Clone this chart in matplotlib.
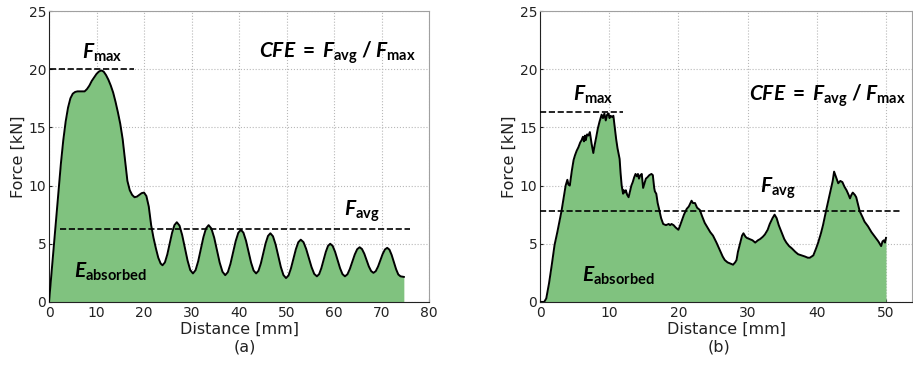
import matplotlib
matplotlib.use("Agg")
import matplotlib.pyplot as plt

# panel (a): smooth crushing curve
dist_a = [0, 0.5, 1.0, 1.5, 2.0, 2.5, 3.0, 3.5, 4.0, 4.5,
          5.0, 5.5, 6.0, 6.5, 7.0, 7.5, 8.0, 8.5, 9.0, 9.5,
          10.0, 10.5, 11.0, 11.5, 12.0, 12.5, 13.0, 13.5, 14.0, 14.5,
          15.0, 15.5, 16.0, 16.5, 17.0, 17.5, 18.0, 18.5, 19.0, 19.5,
          20.0, 20.5, 21.0, 21.5, 22.0, 22.5, 23.0, 23.5, 23.9,
          24.4, 24.9, 25.4, 25.9, 26.4, 26.9,
          27.47, 28.03, 28.6, 29.17, 29.73, 30.3,
          30.85, 31.4, 31.95, 32.5, 33.05, 33.6,
          34.18, 34.77, 35.35, 35.93, 36.52, 37.1,
          37.65, 38.2, 38.75, 39.3, 39.85, 40.4,
          40.93, 41.47, 42.0, 42.53, 43.07, 43.6,
          44.1, 44.6, 45.1, 45.6, 46.1, 46.6,
          47.15, 47.7, 48.25, 48.8, 49.35, 49.9,
          50.42, 50.93, 51.45, 51.97, 52.48, 53.0,
          53.57, 54.13, 54.7, 55.27, 55.83, 56.4,
          56.87, 57.33, 57.8, 58.27, 58.73, 59.2,
          59.72, 60.23, 60.75, 61.27, 61.78, 62.3,
          62.82, 63.33, 63.85, 64.37, 64.88, 65.4,
          65.88, 66.37, 66.85, 67.33, 67.82, 68.3,
          68.78, 69.27, 69.75, 70.23, 70.72, 71.2,
          71.67, 72.13, 72.6, 73.07, 73.53, 74.0, 74.7]
force_a = [0, 2.4, 4.8, 7.2, 9.6, 11.9, 13.9, 15.5, 16.7, 17.5,
           17.9, 18.05, 18.1, 18.1, 18.1, 18.1, 18.3, 18.6, 19.0, 19.3,
           19.6, 19.8, 19.9, 19.8, 19.5, 19.1, 18.6, 18.0, 17.2, 16.3,
           15.3, 14.0, 12.2, 10.4, 9.6, 9.2, 9.0, 9.05, 9.2, 9.35,
           9.4, 9.1, 8.2, 6.6, 5.5, 4.6, 3.8, 3.3, 3.15,
           3.40, 4.08, 5.00, 5.93, 6.60, 6.85,
           6.56, 5.75, 4.65, 3.55, 2.74, 2.45,
           2.73, 3.49, 4.53, 5.56, 6.32, 6.6,
           6.31, 5.53, 4.45, 3.38, 2.59, 2.3,
           2.56, 3.28, 4.25, 5.23, 5.94, 6.2,
           5.95, 5.26, 4.33, 3.39, 2.70, 2.45,
           2.68, 3.31, 4.18, 5.04, 5.67, 5.9,
           5.64, 4.94, 3.98, 3.01, 2.31, 2.05,
           2.27, 2.88, 3.70, 4.53, 5.13, 5.35,
           5.14, 4.56, 3.78, 2.99, 2.41, 2.2,
           2.39, 2.90, 3.60, 4.30, 4.81, 5.0,
           4.81, 4.30, 3.60, 2.90, 2.39, 2.2,
           2.37, 2.83, 3.45, 4.08, 4.53, 4.7,
           4.55, 4.15, 3.60, 3.05, 2.65, 2.5,
           2.64, 3.04, 3.58, 4.11, 4.51, 4.65,
           4.49, 4.04, 3.43, 2.81, 2.36, 2.2, 2.15]

# panel (b): noisy measured curve
dist_b = [0.0, 0.6, 0.9, 1.3, 1.7, 2.1, 2.5, 2.8, 3.1, 3.4,
          3.7, 3.95, 4.1, 4.3, 4.6, 4.85, 5.05, 5.3, 5.55, 5.8,
          6.0, 6.2, 6.35, 6.5, 6.6, 6.8, 7.0, 7.2, 7.45, 7.7,
          7.9, 8.1, 8.35, 8.6, 8.9, 9.1, 9.3, 9.5, 9.7, 9.9,
          10.05, 10.2, 10.4, 10.6, 10.8, 11.0, 11.2, 11.5, 11.65, 11.8,
          12.0, 12.1, 12.25, 12.4, 12.6, 12.8, 13.0, 13.2, 13.4, 13.6,
          13.8, 14.0, 14.15, 14.3, 14.5, 14.7, 14.9, 15.1, 15.3, 15.5,
          15.8, 16.1, 16.3, 16.5, 16.6, 16.8, 17.0, 17.2, 17.5, 17.8,
          18.2, 18.6, 18.8, 19.0, 19.3, 19.6, 20.0, 20.2, 20.5, 20.8,
          21.2, 21.5, 21.9, 22.1, 22.4, 22.7, 23.1, 23.4, 23.8, 24.2,
          24.6, 25.0, 25.5, 25.8, 26.1, 26.4, 26.7, 27.1, 27.5, 27.9,
          28.2, 28.4, 28.6, 28.9, 29.2, 29.4, 29.7, 29.9, 30.3, 30.7,
          31.1, 31.5, 31.8, 32.2, 32.5, 32.9, 33.2, 33.6, 33.9, 34.2,
          34.5, 34.9, 35.3, 35.6, 36.0, 36.4, 36.9, 37.3, 37.8, 38.3,
          38.7, 39.0, 39.5, 39.9, 40.2, 40.6, 40.9, 41.4, 42.0, 42.3,
          42.5, 42.8, 43.1, 43.4, 43.7, 44.0, 44.3, 44.6, 44.8, 45.0,
          45.2, 45.5, 45.7, 46.0, 46.2, 46.6, 46.9, 47.4, 47.9, 48.4,
          48.9, 49.1, 49.3, 49.5, 49.7, 49.85, 50.0]
force_b = [0, 0, 0.3, 1.6, 3.2, 4.9, 6.0, 6.9, 7.8, 8.9,
           10.0, 10.5, 10.1, 10.0, 11.3, 12.2, 12.6, 13.0, 13.3, 13.7,
           13.9, 14.2, 13.8, 14.3, 13.9, 14.4, 14.3, 14.6, 13.6, 12.8,
           13.5, 14.1, 14.9, 15.5, 16.1, 15.8, 16.2, 15.6, 16.1, 16.2,
           15.8, 16.0, 15.9, 16.0, 15.0, 14.0, 13.2, 12.3, 11.0, 10.0,
           9.3, 9.6, 9.4, 9.6, 9.2, 9.0, 9.5, 10.0, 10.3, 10.7,
           11.0, 10.8, 11.0, 10.6, 10.9, 11.0, 9.8, 10.2, 10.6, 10.7,
           10.9, 11.0, 10.9, 9.8, 9.5, 9.3, 8.5, 8.0, 7.2, 6.7,
           6.6, 6.7, 6.6, 6.7, 6.6, 6.4, 6.2, 6.5, 7.0, 7.5,
           8.0, 8.2, 8.7, 8.5, 8.5, 8.1, 7.9, 7.4, 6.8, 6.4,
           6.0, 5.7, 5.1, 4.7, 4.3, 3.9, 3.6, 3.4, 3.3, 3.2,
           3.4, 3.6, 4.3, 5.0, 5.7, 5.9, 5.6, 5.5, 5.4, 5.3,
           5.1, 5.3, 5.4, 5.6, 5.8, 6.2, 6.7, 7.2, 7.5, 7.2,
           6.6, 6.0, 5.4, 5.1, 4.8, 4.6, 4.3, 4.1, 4.0, 3.9,
           3.8, 3.8, 4.0, 4.6, 5.1, 5.9, 6.6, 8.0, 9.6, 10.4,
           11.2, 10.7, 10.2, 10.4, 10.3, 9.9, 9.6, 9.2, 8.9, 9.2,
           9.4, 9.2, 9.0, 8.3, 7.8, 7.3, 6.9, 6.5, 6.0, 5.6,
           5.2, 5.0, 4.8, 5.2, 5.3, 5.1, 5.5]

fmax_a, favg_a = 20.0, 6.3
fmax_b, favg_b = 16.3, 7.8

plt.rcParams['mathtext.fontset'] = 'custom'
plt.rcParams['mathtext.rm'] = 'Lato:bold'
plt.rcParams['mathtext.it'] = 'Lato:italic:bold'
plt.rcParams['mathtext.bf'] = 'Lato:bold'

green = '#80c27f'
fig = plt.figure(figsize=(9.13, 3.7), dpi=100)
ax_a = fig.add_axes([0.0537, 0.184, 0.4162, 0.786])
ax_b = fig.add_axes([0.5915, 0.184, 0.4074, 0.786])


def style(ax, xmax, xticks):
    ax.set_xlim(0, xmax)
    ax.set_ylim(0, 25)
    ax.set_xticks(xticks)
    ax.set_yticks([0, 5, 10, 15, 20, 25])
    ax.grid(True, linestyle=':', color='#b8b8b8', linewidth=0.8)
    ax.set_axisbelow(True)
    ax.tick_params(direction='in', length=2, labelsize=10, pad=3,
                   colors='#222222')
    ax.tick_params(axis='y', pad=2)
    for s in ['top', 'right']:
        ax.spines[s].set_color('#a0a0a0')
    for s in ['left', 'bottom']:
        ax.spines[s].set_color('#222222')
    ax.set_xlabel('Distance [mm]', fontsize=11.5, color='#222222', labelpad=1)
    ax.set_ylabel('Force [kN]', fontsize=11.5, color='#222222', labelpad=2)


fmax_lbl = r'$F_{\mathbf{max}}$'
favg_lbl = r'$F_{\mathbf{avg}}$'
eabs_lbl = r'$E_{\mathbf{absorbed}}$'
cfe_lbl = r'$CFE\;=\;F_{\mathbf{avg}}\;/\;F_{\mathbf{max}}$'

# (a)
style(ax_a, 80, range(0, 81, 10))
ax_a.fill_between(dist_a, force_a, 0, color=green, linewidth=0, zorder=2)
ax_a.plot(dist_a, force_a, color='black', linewidth=1.4, zorder=3)
ax_a.plot([0.3, 17.8], [fmax_a, fmax_a], '--', color='black', linewidth=1.2, zorder=4)
ax_a.plot([2.4, 76], [favg_a, favg_a], '--', color='black', linewidth=1.2, zorder=4)
ax_a.text(11.1, 21.4, fmax_lbl, fontsize=15, ha='center', va='center')
ax_a.text(77.2, 21.4, cfe_lbl, fontsize=15, ha='right', va='center')
ax_a.text(65.8, 7.8, favg_lbl, fontsize=15, ha='center', va='center')
ax_a.text(12.9, 2.6, eabs_lbl, fontsize=15, ha='center', va='center')
fig.text(0.268, 0.062, '(a)', fontsize=11.5, ha='center', va='center', color='#222222')

# (b)
style(ax_b, 53.76, range(0, 51, 10))
ax_b.fill_between(dist_b, force_b, 0, color=green, linewidth=0, zorder=2)
ax_b.plot(dist_b, force_b, color='black', linewidth=1.4, zorder=3)
ax_b.plot([0, 12.0], [fmax_b, fmax_b], '--', color='black', linewidth=1.2, zorder=4)
ax_b.plot([0, 52.3], [favg_b, favg_b], '--', color='black', linewidth=1.2, zorder=4)
ax_b.text(7.7, 17.8, fmax_lbl, fontsize=15, ha='center', va='center')
ax_b.text(52.9, 17.7, cfe_lbl, fontsize=15, ha='right', va='center')
ax_b.text(34.4, 9.8, favg_lbl, fontsize=15, ha='center', va='center')
ax_b.text(11.3, 2.2, eabs_lbl, fontsize=15, ha='center', va='center')
fig.text(0.787, 0.062, '(b)', fontsize=11.5, ha='center', va='center', color='#222222')

fig.savefig('out.png', dpi=100)
